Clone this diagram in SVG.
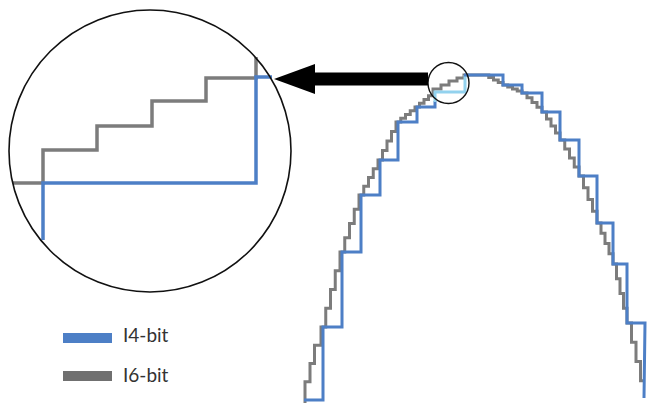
<svg xmlns="http://www.w3.org/2000/svg" width="649" height="403" viewBox="0 0 649 403">
<style>
.ring{fill:none;stroke:#111;}
.blue{fill:none;stroke:#4d7fc6;stroke-linejoin:miter;stroke-linecap:butt;}
.gray{fill:none;stroke:#7c7c7c;stroke-linejoin:miter;stroke-linecap:butt;}
.lblue{fill:none;stroke:#93d2ee;stroke-linejoin:miter;}
.lbl{font-family:Lato,"Open Sans","Liberation Sans",sans-serif;font-size:19px;fill:#333;}
</style>
<defs>
<marker id="head" markerUnits="userSpaceOnUse" markerWidth="42" markerHeight="32" viewBox="0 0 42 32" refX="1" refY="15" orient="auto">
<path d="M0,0 L41,15 L0,30 Z" fill="#000"/>
</marker>
</defs>
<rect width="649" height="403" fill="#fff"/>

<g id="curve-16bit">
<path class="gray" stroke-width="3" d="M305 403 V381.75 H310 V363.5 H314.5 V345.25 H321 V327 H325.75 V308.25 H330.5 V289.5 H335.25 V270.75 H340 V252 H344.75 V237.75 H349.5 V223.5 H354.25 V209.25 H359 V195 H363.75 V186.25 H368.5 V177.5 H373.25 V168.75 H378 V160 H382.5 V150.5 H387 V141 H391.5 V131.5 H396 V122 H400.75 V118.25 H405.5 V114.5 H410.25 V110.75 H415 V107 H419.5 V103.25 H424 V99.5 H428.5 V95.75 H433 V89 H441 V85 H449 V81 H457 V78 H464 V75 H488.75 V77.5 H493.5 V80 H498.25 V82.5 H503 V85 H507.75 V87 H512.5 V89 H517.25 V91 H522 V93 H527 V97.75 H532 V102.5 H537 V107.25 H542 V112 H546.5 V119 H551 V126 H555.5 V133 H560 V140 H564.75 V149 H569.5 V158 H574.25 V167 H579 V176 H583.5 V187.75 H588 V199.5 H592.5 V211.25 H597 V223 H601 V233.25 H605 V243.5 H609 V253.75 H613 V264 H616.5 V278.75 H620 V293.5 H623.5 V308.25 H627 V323 H631.5 V342.25 H636 V361.5 H640.5 V380.75 H644"/>
</g>

<g id="curve-14bit">
<path class="blue" stroke-width="3" d="M304 400 H323 V327 H342 V252 H361 V195 H380 V160 H398 V122 H417 V107 H435 V101"/>
<path class="lblue" stroke-width="3" d="M435 102 V92 H465 V75"/>
<path class="blue" stroke-width="3" d="M464 75 H503 V85 H522 V93 H542 V112 H560 V140 H579 V176 H597 V223 H613 V264 H627 V323 H645 L644 398"/>
</g>

<g id="detail-circle">
<circle class="ring" cx="448.5" cy="83" r="20.5" stroke-width="1.4"/>
</g>

<g id="zoom-view">
<path class="gray" stroke-width="3.5" d="M13 183 H43 V150 H97 V126 H152 V101 H206 V78 H256 V57"/>
<path class="blue" stroke-width="3.5" d="M43 240 V183 H256 V77 H272"/>
<circle class="ring" cx="150" cy="151" r="141" stroke-width="1.6"/>
</g>

<g id="connectors">
<line x1="428" y1="79" x2="314" y2="79" stroke="#000" stroke-width="13" marker-end="url(#head)"/>
</g>

<g id="legend">
<rect x="63" y="333" width="49" height="10" fill="#4d7fc6"/>
<text class="lbl" x="123" y="342">I4-bit</text>
<rect x="63" y="371" width="49" height="10" fill="#707070"/>
<text class="lbl" x="123" y="382">I6-bit</text>
</g>
</svg>
